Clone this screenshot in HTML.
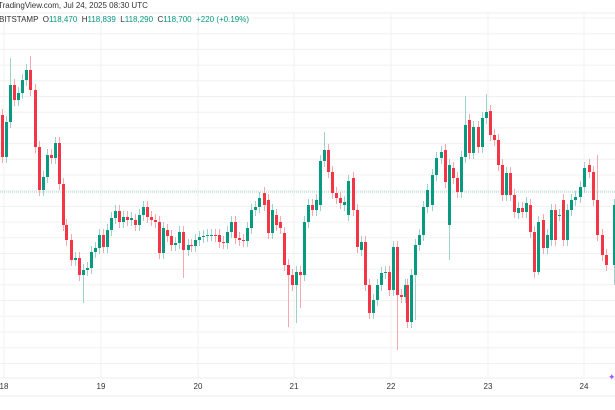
<!DOCTYPE html>
<html><head><meta charset="utf-8"><style>
html,body{margin:0;padding:0;background:#fff;width:615px;height:410px;overflow:hidden;font-family:"Liberation Sans",sans-serif}
.t{position:absolute;font-size:8px;color:#333;white-space:nowrap}
.g{color:#089981}
</style></head><body>
<svg id="s" width="615" height="410" style="position:absolute;left:0;top:0"></svg>
<div class="t" style="left:-2px;top:1px;">TradingView.com, Jul 24, 2025 08:30 UTC</div>
<div class="t" style="left:-1px;top:15px;color:#333">BITSTAMP &nbsp;O<span class="g">118,470</span> &nbsp;H<span class="g">118,839</span> &nbsp;L<span class="g">118,290</span> &nbsp;C<span class="g">118,700</span> &nbsp;<span class="g">+220 (+0.19%)</span></div>
<script>
var s=document.getElementById('s'),h='';
for(var y=18;y<378;y+=15.7)h+='<line x1="0" x2="615" y1="'+y.toFixed(1)+'" y2="'+y.toFixed(1)+'" stroke="#f0f0f0" stroke-width="1"/>';
[4,101,198,294,391,488,584].forEach(function(x,i){h+='<line x1="'+x+'" x2="'+x+'" y1="13" y2="378" stroke="#f0f0f0"/>';h+='<text x="'+x+'" y="389" font-size="8" fill="#333" text-anchor="middle" font-family="Liberation Sans">'+(18+i)+'</text>';});
h+='<line x1="0" x2="615" y1="13" y2="13" stroke="#eee"/>';
h+='<line x1="0" x2="615" y1="192" y2="192" stroke="#9fd3c9" stroke-dasharray="1,1"/>';
h+='<line x1="0" x2="615" y1="378" y2="378" stroke="#eee"/>';
h+='<line x1="0" x2="615" y1="396" y2="396" stroke="#eee"/>';
var d=[[0,115,157],[4,157,122],[8,122,85,58],[12,85,100],[16,100,93],[20,93,80],[24,80,70],[28,70,90,56],[33,90,147],[37,147,190],[41,190,177],[45,177,155],[49,155,158],[53,158,143],[57,143,184],[61,184,225],[64,225,240],[69,240,260],[73,260,258],[77,258,275],[81,275,270,0,303],[85,270,268],[89,268,252],[93,252,248],[97,248,235],[101,235,247],[105,247,230],[109,230,218],[113,218,211],[117,211,222],[121,222,217],[125,217,220],[129,220,218],[133,220,225],[137,225,215],[141,215,207],[145,207,217],[149,217,220],[153,220,222],[157,222,253],[161,253,228],[165,230,236],[169,236,245],[173,245,243],[177,243,232],[181,232,250,0,278],[186,250,245],[189,245,246],[193,246,240],[197,240,237],[201,237,236],[205,236,235],[209,235,235],[213,235,236],[217,235,242],[221,242,243],[225,243,232],[229,232,222],[233,222,238],[237,238,240],[241,240,241],[245,241,228],[249,228,210],[253,210,207],[257,207,198],[262,193,205],[266,200,233],[270,233,210],[274,215,225],[278,222,228],[282,233,265],[286,265,275,0,327],[290,275,285],[294,285,272,0,323],[298,272,275,0,308],[302,275,222],[306,222,205],[310,205,210],[314,210,200],[318,205,161],[322,161,150,132],[326,150,172],[330,172,193],[334,193,198],[338,198,203],[342,205,202],[346,215,181],[351,178,210],[355,210,247],[359,250,242],[363,242,285],[367,285,313],[371,313,300],[375,300,285],[379,285,273],[383,273,272],[387,272,290],[391,290,247],[395,247,295,0,350],[399,295,297],[403,297,285],[405,285,322],[409,322,275],[413,275,245,0,320],[417,245,235],[421,235,207],[425,207,190],[430,205,175],[434,175,158],[439,158,152],[443,150,182],[447,225,165,0,260],[451,168,178],[455,178,192],[459,192,157],[463,157,125,96],[467,120,153],[471,153,127],[476,127,147],[480,147,118],[484,118,112,94],[488,111,135],[492,135,140],[496,140,165],[500,165,195],[504,195,173],[508,173,195],[512,195,212],[516,213,208],[520,208,212],[524,212,203],[528,205,232],[532,232,272],[536,272,222,0,275],[541,220,248],[545,248,235],[549,240,210],[553,210,240],[557,215,215],[561,200,240],[565,240,210],[569,210,200],[573,200,197],[578,197,187],[582,187,168],[587,165,172],[591,172,200],[595,200,235,155],[600,235,255],[604,255,265],[612,265,205,0,285]];
d.forEach(function(c){var x=c[0]+1,o=c[1],cl=c[2],up=cl<=o,col=up?'#089981':'#f23645',wc=up?'#9cd2c7':'#f7a7ae';
var t=Math.min(o,cl),b=Math.max(o,cl),hi=c[3]||t-6,lo=c[4]||b+6;
h+='<line x1="'+(x+1.5)+'" x2="'+(x+1.5)+'" y1="'+hi+'" y2="'+lo+'" stroke="'+wc+'" stroke-width="1"/>';
h+='<rect x="'+x+'" y="'+t+'" width="3" height="'+Math.max(1,b-t)+'" fill="'+col+'"/>';});
h+='<text x="608" y="380" font-size="9" fill="#9c5cff" font-family="DejaVu Sans">✦</text>';
s.innerHTML=h;
</script>
</body></html>
